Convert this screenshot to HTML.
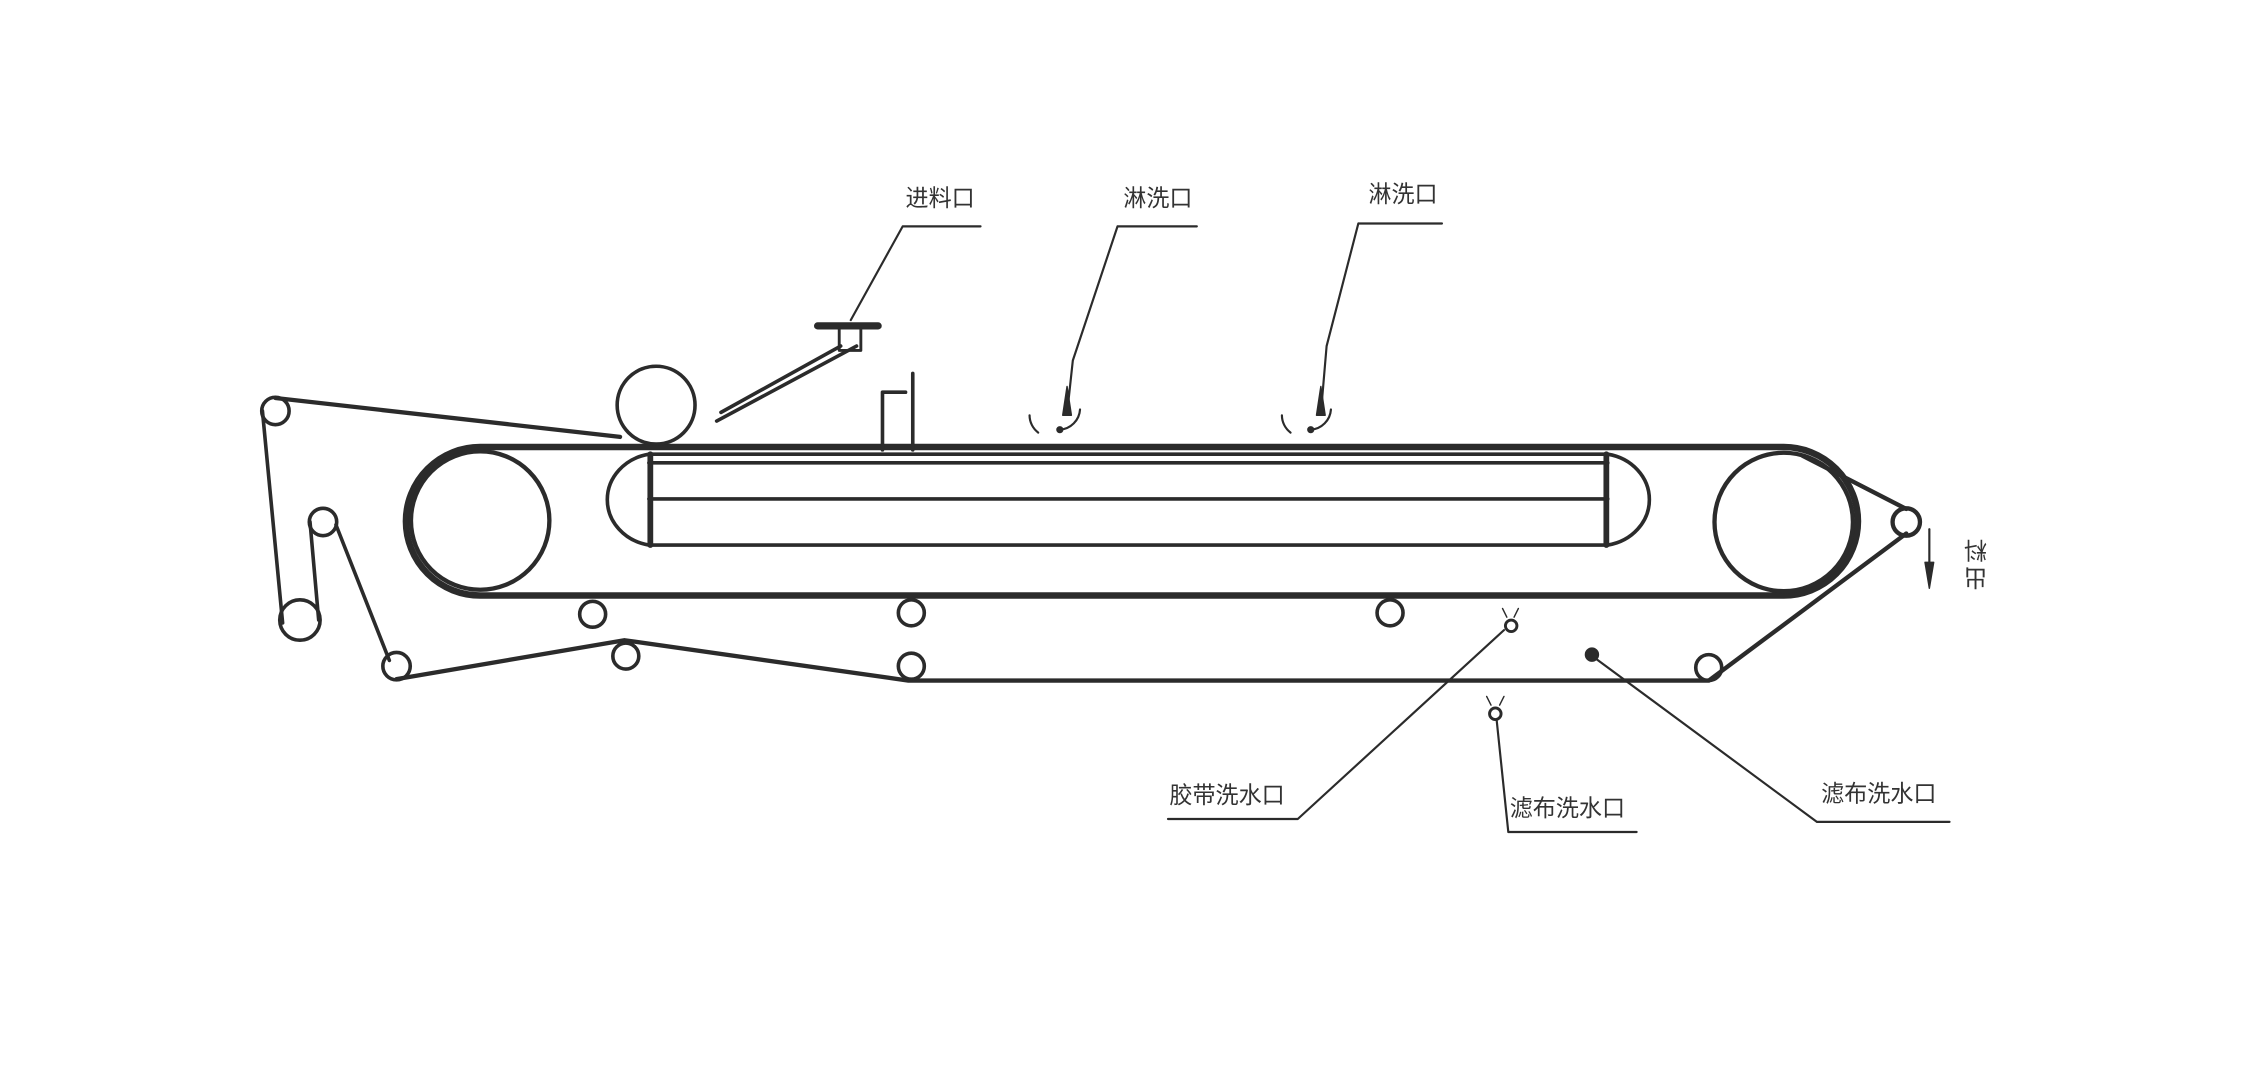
<!DOCTYPE html>
<html><head><meta charset="utf-8"><style>
html,body{margin:0;padding:0;background:#fff;}
svg{display:block;}
text{font-family:"Liberation Sans","Noto Sans CJK SC",sans-serif;fill:#333;}
</style></head><body>
<svg width="2261" height="1065" viewBox="0 0 1568 738.6" preserveAspectRatio="none" xmlns="http://www.w3.org/2000/svg">
<rect width="1568" height="738.6" fill="#fff"/>
<g fill="none" stroke="#2b2b2b" stroke-linecap="round" stroke-linejoin="round">
<!-- belt stadium -->
<path d="M333,310 L1237,310 A51.5,51.5 0 0 1 1237,413 L333,413 A51.5,51.5 0 0 1 333,310 Z" stroke-width="4.5"/>
<circle cx="333" cy="361" r="48" stroke-width="3"/>
<circle cx="1237" cy="362" r="48" stroke-width="3"/>
<!-- vacuum box -->
<path d="M450,315 L1115,315 M450,321 L1115,321 M450,346 L1115,346 M450,378 L1115,378" stroke-width="2.5"/>
<path d="M450,315 A35,32 0 0 0 450,378" stroke-width="2.5"/>
<path d="M1115,315 A35,32 0 0 1 1115,378" stroke-width="2.5"/>
<path d="M451,315 L451,378 M1114,315 L1114,378" stroke-width="4"/>
<!-- press roller -->
<circle cx="455" cy="281" r="27" stroke-width="2.5"/>
<!-- cloth path -->
<path d="M191,276 L430,303" stroke-width="3"/>
<circle cx="191" cy="285" r="9.5" stroke-width="2.5"/>
<path d="M182,285 L196,432" stroke-width="2.5"/>
<circle cx="208" cy="430" r="14" stroke-width="2.5"/>
<circle cx="224" cy="362" r="9.5" stroke-width="2.5"/>
<path d="M215,362 L221,430" stroke-width="2.5"/>
<path d="M233,364 L270,458" stroke-width="2.5"/>
<circle cx="275" cy="462" r="9.5" stroke-width="2.5"/>
<path d="M275,471 L433,444 L630,472 L1185,472 L1322,370" stroke-width="3"/>
<path d="M1250,316 L1322,353" stroke-width="3"/>
<circle cx="1322" cy="362" r="9.5" stroke-width="3"/>
<!-- small rollers -->
<circle cx="411" cy="426" r="9" stroke-width="2.5"/>
<circle cx="632" cy="425" r="9" stroke-width="2.5"/>
<circle cx="964" cy="425" r="9" stroke-width="2.5"/>
<circle cx="434" cy="455" r="9" stroke-width="2.5"/>
<circle cx="632" cy="462" r="9" stroke-width="2.5"/>
<circle cx="1185" cy="463" r="9" stroke-width="2.5"/>
<!-- feed chute -->
<path d="M497,292 L594,240 M500,286 L583,240" stroke-width="2.5"/>
<path d="M567,226 L609,226" stroke-width="5"/>
<path d="M582,228 L582,243 M597,228 L597,243 M582,243 L597,243" stroke-width="2"/>
<path d="M590,222 L626,157 L680,157" stroke-width="1.5"/>
<!-- gate -->
<path d="M612,312 L612,272 L628,272 M633,259 L633,312" stroke-width="2.5"/>
<!-- spray 1 -->
<path d="M775,157 L830,157 M775,157 L744,250 L740,287" stroke-width="1.5"/>
<path d="M740,268 L737,288 L743,288 Z" fill="#2b2b2b" stroke-width="1"/>
<path d="M714,288 A15,15 0 0 0 720,300 M735,298 A15,15 0 0 0 749,284" stroke-width="1.5"/>
<circle cx="735" cy="298" r="2" fill="#2b2b2b"/>
<!-- spray 2 -->
<path d="M942,155 L1000,155 M942,155 L920,240 L916,287" stroke-width="1.5"/>
<path d="M916,268 L913,288 L919,288 Z" fill="#2b2b2b" stroke-width="1"/>
<path d="M889,288 A15,15 0 0 0 895,300 M909,298 A15,15 0 0 0 923,284" stroke-width="1.5"/>
<circle cx="909" cy="298" r="2" fill="#2b2b2b"/>
<!-- discharge arrow -->
<path d="M1338,367 L1338,400" stroke-width="1.5"/>
<path d="M1335,390 L1338,408 L1341,390 Z" fill="#2b2b2b" stroke-width="1"/>
<!-- bottom leaders -->
<path d="M810,568 L900,568 L1043,437" stroke-width="1.5"/>
<circle cx="1048" cy="434" r="4" stroke-width="2"/>
<path d="M1045,428 L1042,422 M1050,428 L1053,422" stroke-width="1"/>
<path d="M1046,577 L1135,577 M1046,577 L1038,500" stroke-width="1.5"/>
<circle cx="1037" cy="495" r="4" stroke-width="2"/>
<path d="M1034,489 L1031,483 M1040,489 L1043,483" stroke-width="1"/>
<path d="M1260,570 L1352,570 M1260,570 L1107,457" stroke-width="1.5"/>
<circle cx="1104" cy="454" r="4.5" fill="#2b2b2b" stroke-width="1"/>
</g>
<g font-size="16">
<text x="628" y="143">进料口</text>
<text x="779" y="143">淋洗口</text>
<text x="949" y="140">淋洗口</text>
<text x="811" y="557">胶带洗水口</text>
<text x="1047" y="566">滤布洗水口</text>
<text x="1263" y="556">滤布洗水口</text>
<text transform="translate(1370,376) rotate(180)" text-anchor="middle">料</text>
<text transform="translate(1370,395) rotate(180)" text-anchor="middle">出</text>
</g>
</svg>
</body></html>
